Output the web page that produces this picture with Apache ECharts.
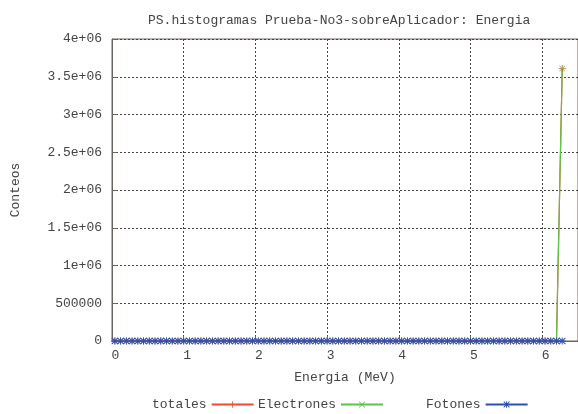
<!DOCTYPE html>
<html>
<head>
<meta charset="utf-8">
<script src="https://cdn.jsdelivr.net/npm/echarts@6/dist/echarts.min.js"></script>
<style>
html,body{margin:0;padding:0;background:#fff;}
#c{width:578px;height:414px;}
</style>
</head>
<body>
<div id="c"></div>
<script>
// Bin centres (MeV)
var energias = [
  0.04,0.12,0.2,0.28,0.36,0.44,0.52,0.6,0.68,0.76,
  0.84,0.92,1,1.08,1.16,1.24,1.32,1.4,1.48,1.56,
  1.64,1.72,1.8,1.88,1.96,2.04,2.12,2.2,2.28,2.36,
  2.44,2.52,2.6,2.68,2.76,2.84,2.92,3,3.08,3.16,
  3.24,3.32,3.4,3.48,3.56,3.64,3.72,3.8,3.88,3.96,
  4.04,4.12,4.2,4.28,4.36,4.44,4.52,4.6,4.68,4.76,
  4.84,4.92,5,5.08,5.16,5.24,5.32,5.4,5.48,5.56,
  5.64,5.72,5.8,5.88,5.96,6.04,6.12,6.2,6.28
];
var totales = [
  0,0,0,0,0,0,0,0,0,0,
  0,0,0,0,0,0,0,0,0,0,
  0,0,0,0,0,0,0,0,0,0,
  0,0,0,0,0,0,0,0,0,0,
  0,0,0,0,0,0,0,0,0,0,
  0,0,0,0,0,0,0,0,0,0,
  0,0,0,0,0,0,0,0,0,0,
  0,0,0,0,0,0,0,0,3610000
];
var electrones = [
  0,0,0,0,0,0,0,0,0,0,
  0,0,0,0,0,0,0,0,0,0,
  0,0,0,0,0,0,0,0,0,0,
  0,0,0,0,0,0,0,0,0,0,
  0,0,0,0,0,0,0,0,0,0,
  0,0,0,0,0,0,0,0,0,0,
  0,0,0,0,0,0,0,0,0,0,
  0,0,0,0,0,0,0,0,3610000
];
var fotones = [
  0,0,0,0,0,0,0,0,0,0,
  0,0,0,0,0,0,0,0,0,0,
  0,0,0,0,0,0,0,0,0,0,
  0,0,0,0,0,0,0,0,0,0,
  0,0,0,0,0,0,0,0,0,0,
  0,0,0,0,0,0,0,0,0,0,
  0,0,0,0,0,0,0,0,0,0,
  0,0,0,0,0,0,0,0,0
];
var titulo = 'PS.histogramas Prueba-No3-sobreAplicador: Energia';
var nombreX = 'Energia (MeV)';
var nombreY = 'Conteos';
var nombresSeries = ['totales', 'Electrones', 'Fotones'];

function pares(xs, ys) {
  var out = [];
  for (var i = 0; i < xs.length; i++) out.push([xs[i], ys[i]]);
  return out;
}

var FONT = 'Liberation Mono';
var TXT = '#444';
var BORDER = '#6e6360';
var FS = 13;

var symPlus = 'path://M0,4.4H10V5.6H0Z M4.4,0H5.6V10H4.4Z';
var symX = 'path://M0,0.8L0.8,0L10,9.2L9.2,10Z M9.2,0L10,0.8L0.8,10L0,9.2Z';
var symStar = 'path://M0,4.3H10V5.7H0Z M4.3,0H5.7V10H4.3Z M0,1L1,0L10,9L9,10Z M9,0L10,1L1,10L0,9Z';

function leyenda(nombre, x) {
  return {data: [nombre], left: x, top: 393, align: 'right', itemWidth: 42, itemHeight: 8,
          textStyle: {fontFamily: FONT, fontSize: FS, color: TXT}};
}

var chart = echarts.init(document.getElementById('c'), null, {renderer: 'canvas'});
chart.setOption({
  animation: false,
  backgroundColor: '#fff',
  textStyle: {fontFamily: FONT, color: TXT},
  title: {
    text: titulo,
    left: 143, top: 9,
    textStyle: {fontFamily: FONT, fontSize: FS, fontWeight: 'normal', color: TXT}
  },
  grid: {
    left: 112, right: 0, top: 39, bottom: 73,
    show: true, borderColor: BORDER, borderWidth: 1, backgroundColor: 'transparent'
  },
  legend: [
    leyenda(nombresSeries[0], 147),
    leyenda(nombresSeries[1], 253),
    leyenda(nombresSeries[2], 421)
  ],
  xAxis: {
    type: 'value', min: 0, max: 6.5, interval: 1,
    name: nombreX, nameLocation: 'middle', nameGap: 30,
    nameTextStyle: {fontFamily: FONT, fontSize: FS, color: TXT},
    axisLine: {show: true, lineStyle: {color: BORDER, width: 1}},
    axisTick: {show: true, inside: true, length: 5, lineStyle: {color: BORDER}},
    axisLabel: {fontFamily: FONT, fontSize: FS, color: TXT, margin: 8, showMaxLabel: false,
                padding: [0, 0, 0, 7]},
    splitLine: {show: true, lineStyle: {color: '#444', type: [2, 2], width: 1}}
  },
  yAxis: {
    type: 'value', min: 0, max: 4000000, interval: 500000,
    name: nombreY, nameLocation: 'middle', nameGap: 90, nameRotate: 90,
    nameTextStyle: {fontFamily: FONT, fontSize: FS, color: TXT},
    axisLine: {show: true, lineStyle: {color: BORDER, width: 1}},
    axisTick: {show: true, inside: true, length: 5, lineStyle: {color: BORDER}},
    axisLabel: {
      fontFamily: FONT, fontSize: FS, color: TXT, margin: 10,
      formatter: function (v) {
        if (v === 0) return '0';
        if (v < 1000000) return String(v);
        return (v / 1000000) + 'e+06';
      }
    },
    splitLine: {show: true, lineStyle: {color: '#444', type: [2, 2], width: 1}}
  },
  series: [
    {name: nombresSeries[0], type: 'line', data: pares(energias, totales),
     color: '#ee4a2c', symbol: symPlus, symbolSize: 7, showAllSymbol: true,
     lineStyle: {width: 1.2}},
    {name: nombresSeries[1], type: 'line', data: pares(energias, electrones),
     color: '#5bc44a', symbol: symX, symbolSize: 6, showAllSymbol: true,
     lineStyle: {width: 1.2}},
    {name: nombresSeries[2], type: 'line', data: pares(energias, fotones),
     color: '#2d4fb3', symbol: symStar, symbolSize: 7, showAllSymbol: true,
     lineStyle: {width: 1.2}}
  ]
});
</script>
</body>
</html>
